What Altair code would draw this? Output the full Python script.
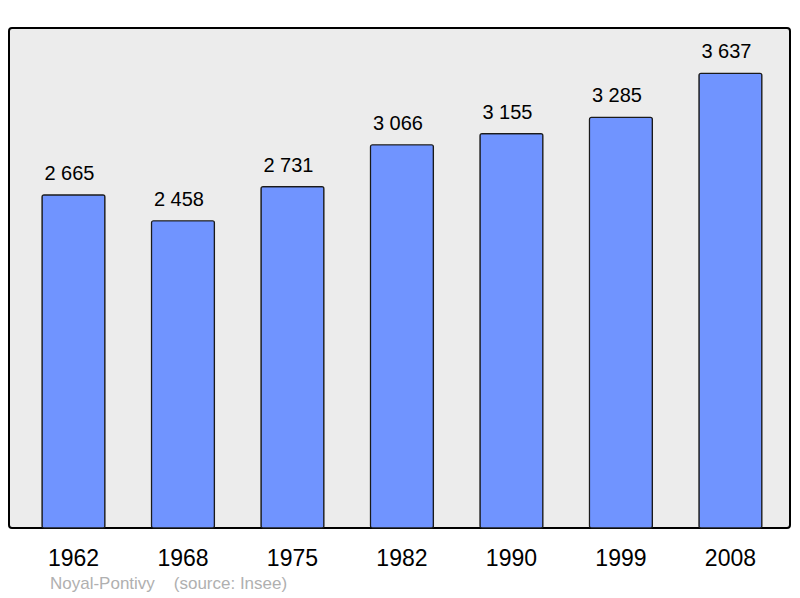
import altair as alt
import pandas as pd

years = ["1962", "1968", "1975", "1982", "1990", "1999", "2008"]
population = [2665, 2458, 2731, 3066, 3155, 3285, 3637]
labels = ["2 665", "2 458", "2 731", "3 066", "3 155", "3 285", "3 637"]
footer = ["Noyal-Pontivy\u00a0\u00a0\u00a0\u00a0(source: Insee)"]

df = pd.DataFrame({"year": years, "pop": population, "label": labels})
foot_df = pd.DataFrame({"t": footer})

FONT = "Liberation Sans"

x = alt.X("year:N", sort=years, title=None,
          scale=alt.Scale(paddingInner=0.425, paddingOuter=0.279, align=0.54),
          axis=alt.Axis(domain=False, ticks=False, tickSize=0, labelAngle=0,
                        labelFont=FONT, labelFontSize=23, labelColor="#000000",
                        labelBaseline="alphabetic", labelPadding=37, grid=False))
y = alt.Y("pop:Q", title=None, scale=alt.Scale(domain=[0, 4000], nice=False),
          axis=None)

bars = alt.Chart(df).mark_bar(
    color="#7094ff", stroke="#1a1a1a", strokeWidth=1.2, cornerRadius=2
).encode(x=x, y=y)

text = alt.Chart(df).mark_text(
    font=FONT, fontSize=20, color="#000000", baseline="alphabetic", dy=-15, dx=-4
).encode(x=x, y=y, text="label:N")

foot = alt.Chart(foot_df).mark_text(
    font=FONT, fontSize=17, color="#b0b0b0", align="left", baseline="alphabetic"
).encode(x=alt.value(41), y=alt.value(561), text="t:N")

chart = (bars + text + foot).properties(
    width=781, height=500,
    padding={"left": 1, "top": 20, "right": 2, "bottom": 2},
    background="#ffffff",
).configure_view(
    fill="#ececec", stroke="#000000", strokeWidth=2, cornerRadius=3
)

chart.save("out.html", embed_options={"renderer": "svg", "actions": False})
